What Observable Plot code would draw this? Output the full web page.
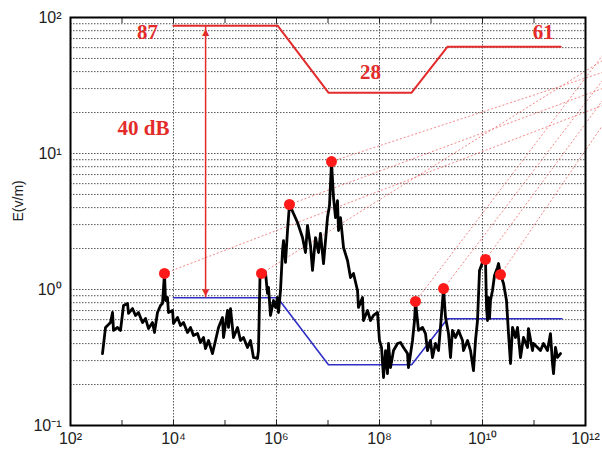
<!DOCTYPE html>
<html><head><meta charset="utf-8">
<script src="https://cdn.jsdelivr.net/npm/d3@7"></script>
<script src="https://cdn.jsdelivr.net/npm/@observablehq/plot@0.6"></script>
<style>body{margin:0;background:#fff}</style>
</head><body><div id="chart"></div>
<script>
// Measured spectrum (log10 of frequency in Hz, log10 of E in V/m)
const traceLogF = [2.621,2.680,2.777,2.816,2.835,2.913,2.971,3.029,3.107,3.126,3.204,3.262,3.320,3.398,3.456,3.515,3.592,3.631,3.689,3.748,3.786,3.825,3.845,3.883,3.903,3.981,4.000,4.078,4.136,4.194,4.272,4.330,4.388,4.466,4.524,4.583,4.621,4.680,4.757,4.816,4.874,4.951,4.971,5.049,5.068,5.107,5.165,5.243,5.301,5.359,5.437,5.495,5.553,5.631,5.650,5.670,5.680,5.709,5.786,5.825,5.845,5.883,5.942,5.981,6.019,6.039,6.078,6.117,6.136,6.175,6.214,6.252,6.330,6.408,6.505,6.563,6.602,6.660,6.699,6.757,6.816,6.854,6.913,6.990,7.029,7.068,7.107,7.146,7.184,7.204,7.243,7.301,7.379,7.437,7.495,7.573,7.592,7.670,7.689,7.767,7.825,7.883,7.961,7.999,8.039,8.078,8.117,8.155,8.175,8.214,8.272,8.350,8.408,8.466,8.544,8.563,8.641,8.680,8.699,8.757,8.835,8.893,8.932,8.990,9.029,9.087,9.146,9.184,9.243,9.282,9.340,9.379,9.417,9.476,9.534,9.612,9.631,9.709,9.767,9.825,9.864,9.903,9.942,10.000,10.058,10.078,10.097,10.117,10.136,10.155,10.194,10.233,10.291,10.311,10.349,10.408,10.466,10.505,10.544,10.583,10.641,10.680,10.738,10.796,10.874,10.893,10.971,10.990,11.068,11.126,11.184,11.262,11.320,11.359,11.379,11.417,11.456,11.515];
const traceLogE = [-0.471,-0.279,-0.243,-0.169,-0.301,-0.279,-0.301,-0.118,-0.103,-0.176,-0.140,-0.191,-0.169,-0.243,-0.213,-0.287,-0.243,-0.316,-0.169,-0.118,-0.103,0.118,-0.081,-0.059,-0.169,-0.154,-0.250,-0.206,-0.265,-0.243,-0.316,-0.279,-0.338,-0.324,-0.390,-0.353,-0.434,-0.375,-0.471,-0.375,-0.279,-0.206,-0.353,-0.154,-0.279,-0.140,-0.353,-0.279,-0.375,-0.353,-0.426,-0.375,-0.500,-0.507,-0.449,-0.081,0.103,0.118,0.125,-0.029,0.015,-0.191,-0.081,-0.132,-0.059,-0.169,-0.007,0.287,0.360,0.199,0.434,0.625,0.559,0.493,0.382,0.272,0.471,0.324,0.140,0.382,0.272,0.412,0.191,0.529,0.618,0.941,0.676,0.529,0.654,0.434,0.529,0.309,0.213,0.088,0.118,-0.007,-0.132,-0.059,-0.228,-0.154,-0.228,-0.191,-0.169,-0.375,-0.426,-0.647,-0.449,-0.618,-0.397,-0.574,-0.449,-0.397,-0.390,-0.426,-0.471,-0.574,-0.375,-0.228,-0.088,-0.301,-0.279,-0.324,-0.449,-0.375,-0.500,-0.397,-0.449,-0.279,0.007,-0.206,-0.324,-0.500,-0.301,-0.353,-0.301,-0.375,-0.449,-0.375,-0.449,-0.596,-0.375,-0.228,0.140,0.199,0.221,-0.132,-0.228,-0.059,-0.213,-0.081,-0.007,0.103,0.162,0.191,0.110,0.044,-0.081,-0.324,-0.544,-0.279,-0.353,-0.279,-0.500,-0.353,-0.426,-0.287,-0.449,-0.397,-0.426,-0.449,-0.397,-0.449,-0.324,-0.544,-0.618,-0.426,-0.500,-0.471];

// Marked peaks
const peakLogF = [3.825,5.709,6.252,7.068,8.699,9.243,10.058,10.349];
const peakLogE = [0.118,0.118,0.625,0.941,-0.088,0.007,0.221,0.110];
// Dotted extrapolation rays: common end frequency, per-peak end field
const rayEndLogF = 12.33;
const rayEndLogE = [1.353,1.684,1.478,1.596,1.721,1.537,1.390,1.206];

// Limit (red) and 40 dB margin (blue)
const limitFreq = [1e4, 1.05e6, 1.02e7, 4.2e8, 2.1e9, 3.3e11];
const limitE = [87, 87, 28, 28, 61, 61];
const marginFreq = [1e4, 1.05e6, 1.02e7, 4.2e8, 2.1e9, 3.5e11];
const marginE = [0.87, 0.87, 0.28, 0.28, 0.61, 0.61];

const arrowFreq = 4.2e4;
const labels = ["87", "28", "61", "40 dB"];
const labelLogF = [3.495, 7.825, 11.18, 3.417];
const labelLogE = [1.890, 1.596, 1.890, 1.184];

const xTickValues = [1e2,1e3,1e4,1e5,1e6,1e7,1e8,1e9,1e10,1e11,1e12];
const xLabelValues = [1e2,1e4,1e6,1e8,1e10,1e12];
const xGridValues = [1e4,1e6,1e8,1e10];
const yLabelValues = [0.1,1,10,100];
const yGridValues = [0.2,0.3,0.4,0.5,0.6,0.7,0.8,0.9,1,2,3,4,5,6,7,8,9,10,20,30,40,50,60,70,80,90];

const trace = traceLogF.map((f,i)=>({f:10**f, e:10**traceLogE[i]}));
const peaks = peakLogF.map((f,i)=>({f:10**f, e:10**peakLogE[i], f2:10**rayEndLogF, e2:10**rayEndLogE[i]}));
const limit = limitFreq.map((f,i)=>({f, e:limitE[i]}));
const margin = marginFreq.map((f,i)=>({f, e:marginE[i]}));
const lab = labels.map((t,i)=>({t, f:10**labelLogF[i], e:10**labelLogE[i]}));

const sup = {"-":"\u207B","0":"\u2070","1":"\u00B9","2":"\u00B2","3":"\u00B3","4":"\u2074","5":"\u2075","6":"\u2076","7":"\u2077","8":"\u2078","9":"\u2079"};
const fmt = v => "10" + String(Math.round(Math.log10(v))).split("").map(c=>sup[c]).join("");

const red = "#e32b2b";
const chart = Plot.plot({
  width: 602, height: 455,
  marginLeft: 70, marginRight: 17, marginTop: 17, marginBottom: 30,
  x: {type: "log", domain: [1e2, 1e12]},
  y: {type: "log", domain: [0.1, 100]},
  style: {fontFamily: "'Liberation Sans', Arial, sans-serif", fontSize: "16px", background: "white", color: "#222"},
  marks: [
    Plot.ruleY(yGridValues, {stroke: "#555", strokeWidth: 1, strokeDasharray: "1.5,1.5"}),
    Plot.ruleX(xGridValues, {stroke: "#555", strokeWidth: 1, strokeDasharray: "1.5,1.5"}),
    Plot.axisX(xLabelValues, {tickFormat: fmt, tickSize: 0, tickPadding: 7, label: null}),
    Plot.axisX(xTickValues, {anchor: "bottom", tickSize: -5, tickFormat: () => "", label: null}),
    Plot.axisX(xTickValues, {anchor: "top", tickSize: -5, tickFormat: () => "", label: null}),
    Plot.axisY(yLabelValues, {tickFormat: fmt, tickSize: 0, tickPadding: 9, label: null}),
    Plot.text(["E(v/m)"], {frameAnchor: "left", rotate: -90, dx: -52, fontSize: 14}),
    Plot.link(peaks, {x1: "f", y1: "e", x2: "f2", y2: "e2", stroke: "#ee6a6a", strokeOpacity: 0.8, strokeWidth: 1, strokeDasharray: "2,2"}),
    Plot.line(limit, {x: "f", y: "e", stroke: red, strokeWidth: 2}),
    Plot.line(margin, {x: "f", y: "e", stroke: "#2f2fc8", strokeWidth: 1.6}),
    Plot.line(trace, {x: "f", y: "e", stroke: "black", strokeWidth: 2.8, strokeLinejoin: "round"}),
    Plot.dot(peaks, {x: "f", y: "e", r: 5.5, fill: "#ff1a1a", stroke: "none"}),
    Plot.ruleX([arrowFreq], {y1: 0.87, y2: 87, stroke: red, strokeWidth: 1.5}),
    Plot.text([{f: arrowFreq, e: 87}], {x: "f", y: "e", text: () => "\u25B2", fill: red, fontSize: 12, dy: 6}),
    Plot.text([{f: arrowFreq, e: 0.87}], {x: "f", y: "e", text: () => "\u25BC", fill: red, fontSize: 12, dy: -6}),
    Plot.text(lab, {x: "f", y: "e", text: "t", fill: red, fontFamily: "'Liberation Serif', 'Times New Roman', serif", fontWeight: "bold", fontSize: 21}),
    Plot.frame({stroke: "black", strokeWidth: 2})
  ]
});
document.getElementById("chart").append(chart);
</script>
</body></html>
